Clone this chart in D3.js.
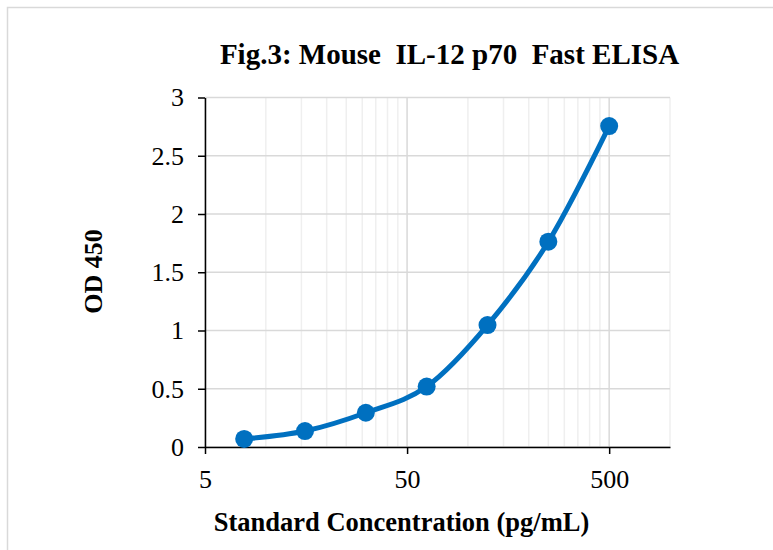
<!DOCTYPE html>
<html><head><meta charset="utf-8">
<script src="https://cdn.jsdelivr.net/npm/d3@7"></script>
<style>body{margin:0;background:#fff}svg{display:block}text{font-family:"Liberation Serif","Times New Roman",serif}</style>
</head><body>
<svg id="c" width="773" height="550"></svg>
<script>
const concentrations = [7.8125, 15.625, 31.25, 62.5, 125, 250, 500];
const od450 = [0.069, 0.137, 0.294, 0.519, 1.047, 1.762, 2.755];
const xTicks = [5, 50, 500];
const yTicks = [0, 0.5, 1, 1.5, 2, 2.5, 3];
const xMinorGrid = [10,15,20,25,30,35,40,45,100,150,200,250,300,350,400,450,1000];
const title = "Fig.3: Mouse  IL-12 p70  Fast ELISA";
const xTitle = "Standard Concentration (pg/mL)";
const yTitle = "OD 450";

const svg = d3.select("#c");
const L = 205, R = 670, T = 97.5, B = 447;
const x = d3.scaleLog().domain([5, 1000]).range([L, R]);
const y = d3.scaleLinear().domain([0, 3]).range([B, T]);

svg.append("rect").attr("x", 7.5).attr("y", 7.5).attr("width", 800).attr("height", 600)
  .attr("fill", "#fff").attr("stroke", "#d9d9d9").attr("stroke-width", 1.5);

svg.append("g").selectAll("line").data(xMinorGrid).join("line")
  .attr("x1", d => x(d)).attr("x2", d => x(d)).attr("y1", T).attr("y2", B)
  .attr("stroke", "#efefef").attr("stroke-width", 1.5);
svg.append("g").selectAll("line").data(xTicks).join("line")
  .attr("x1", d => x(d)).attr("x2", d => x(d)).attr("y1", T).attr("y2", B)
  .attr("stroke", "#d9d9d9").attr("stroke-width", 1.5);
svg.append("g").selectAll("line").data(yTicks).join("line")
  .attr("x1", L).attr("x2", R).attr("y1", d => y(d)).attr("y2", d => y(d))
  .attr("stroke", "#d9d9d9").attr("stroke-width", 1.5);

const xa = svg.append("g").attr("transform", `translate(0,${B})`)
  .call(d3.axisBottom(x).tickValues(xTicks).tickFormat(d3.format("d")).tickSizeInner(7).tickSizeOuter(0).tickPadding(16));
const ya = svg.append("g").attr("transform", `translate(${L},0)`)
  .call(d3.axisLeft(y).tickValues(yTicks).tickFormat(d => String(d)).tickSizeInner(7).tickSizeOuter(0).tickPadding(14));
[xa, ya].forEach(a => {
  a.select(".domain").attr("stroke", "#000").attr("stroke-width", 1.5);
  a.selectAll(".tick line").attr("stroke", "#000").attr("stroke-width", 1.5);
  a.selectAll(".tick text").attr("fill", "#000").style("font-size", "26px").style("font-family", '"Liberation Serif",serif');
});

const line = d3.line().x((d, i) => x(concentrations[i])).y(d => y(d)).curve(d3.curveCatmullRom.alpha(0));
svg.append("path").datum(od450).attr("d", line).attr("fill", "none")
  .attr("stroke", "#0070C0").attr("stroke-width", 5).attr("stroke-linecap", "round");
svg.append("g").selectAll("circle").data(od450).join("circle")
  .attr("cx", (d, i) => x(concentrations[i])).attr("cy", d => y(d)).attr("r", 9).attr("fill", "#0070C0");

svg.append("text").attr("x", 449.5).attr("y", 64).attr("text-anchor", "middle")
  .style("font-size", "29px").style("font-weight", "bold").style("white-space", "pre").text(title);
svg.append("text").attr("x", 401.5).attr("y", 531).attr("text-anchor", "middle")
  .style("font-size", "26.5px").style("font-weight", "bold").text(xTitle);
svg.append("text").attr("transform", "translate(102,271.5) rotate(-90)").attr("text-anchor", "middle")
  .style("font-size", "26px").style("font-weight", "bold").text(yTitle);
</script>
</body></html>
